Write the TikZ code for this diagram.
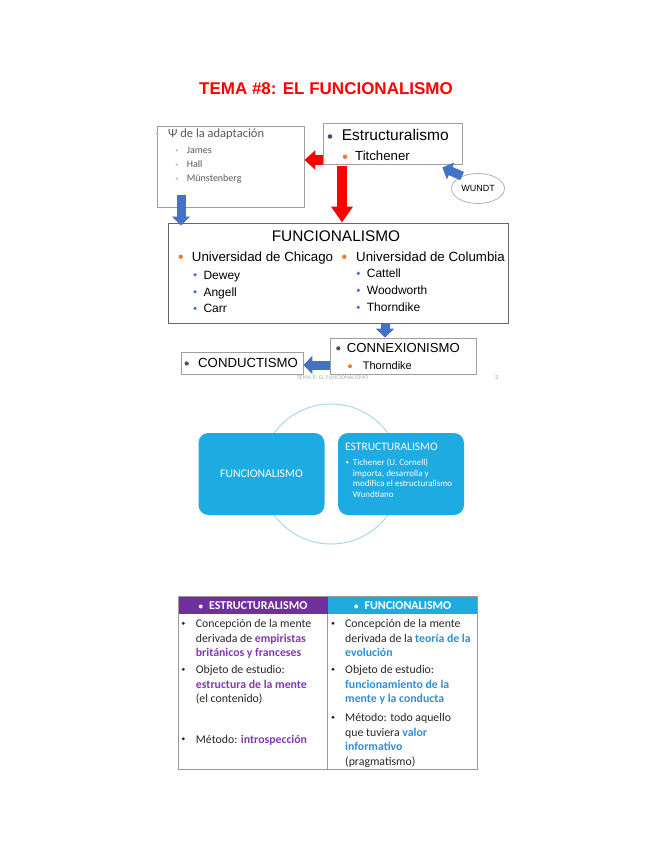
\documentclass[tikz,border=0pt]{standalone}
\usepackage{fontspec}
\setmainfont{Liberation Sans}
\newfontfamily\calibri{Carlito}
\usetikzlibrary{arrows.meta,shapes.geometric}

\definecolor{navy}{HTML}{44546A}
\definecolor{orng}{HTML}{ED7D31}
\definecolor{blu}{HTML}{4472C4}
\definecolor{ltblu}{HTML}{9DC3E6}
\definecolor{psigray}{HTML}{595959}
\definecolor{cybox}{HTML}{1DABE2}
\definecolor{ringblu}{HTML}{A9D8F0}
\definecolor{purp}{HTML}{7030A0}
\definecolor{txtpurp}{HTML}{7E3BB4}
\definecolor{txtblu}{HTML}{2E8FD6}

\newcommand{\emp}[1]{{\bfseries\color{txtpurp}#1}}
\newcommand{\fnc}[1]{{\bfseries\color{txtblu}#1}}

\tikzset{
  slidebox/.style={draw=gray!75, line width=0.8pt, inner sep=0pt},
  redarr/.style={draw=red, line width=10pt, -{Triangle[length=11pt,width=19pt]}},
  redarrd/.style={draw=red, line width=10pt, -{Triangle[length=16pt,width=21pt]}},
  bluarr/.style={draw=blu, line width=9pt, -{Triangle[length=9pt,width=18pt]}},
  txt/.style={anchor=base west, inner sep=0pt},
  roundbox/.style={fill=cybox, rounded corners=10pt, inner sep=0pt,
    minimum width=126pt, minimum height=82pt},
  hdr/.style={inner sep=0pt, minimum width=149.4pt, minimum height=17.3pt,
    text=white, font=\calibri\bfseries\fontsize{12}{14}\selectfont},
  cell/.style={txt, text=black!85, font=\calibri\fontsize{11.8}{14}\selectfont},
}

\begin{document}
\begin{tikzpicture}[x=1pt,y=-1pt]
\path[fill=white] (0,0) rectangle (655,848);
\useasboundingbox (0,0) rectangle (655,848);

% title
\node[txt, anchor=base, text=red, font=\bfseries\fontsize{17}{20}\selectfont] (title) at (326,95) {TEMA \#8: EL FUNCIONALISMO};

% slide boxes
\node[slidebox, minimum width=147pt, minimum height=81pt] (psi) at (230.5,166.5) {};
\node[slidebox, minimum width=139pt, minimum height=41pt] (estr) at (392.5,143.5) {};
\node[slidebox, draw=black!60, line width=1pt, minimum width=340.5pt, minimum height=100pt] (func) at (338.25,273) {};
\node[slidebox, minimum width=146pt, minimum height=36pt] (conn) at (403,356) {};
\node[slidebox, minimum width=122pt, minimum height=21.5pt] (cond) at (242,363.25) {};
\node[slidebox, draw=gray!60, ellipse, minimum width=53pt, minimum height=30pt, font=\fontsize{9}{11}\selectfont] (wundt) at (478,188.5) {WUNDT};

% psi box
\fill[ltblu] (157,133.5) circle (1.5pt);
\node[txt, text=psigray, font=\calibri\fontsize{12.5}{15}\selectfont] (adapt) at (168,138) {Ψ de la adaptación};
\fill[ltblu] (176.7,150.3) circle (1.3pt);
\fill[ltblu] (176.7,164.6) circle (1.3pt);
\fill[ltblu] (176.7,178.6) circle (1.3pt);
\node[txt, text=psigray, font=\calibri\fontsize{10}{12}\selectfont] (james) at (186.7,153.3) {James};
\node[txt, text=psigray, font=\calibri\fontsize{10}{12}\selectfont] (hall) at (186.7,167.6) {Hall};
\node[txt, text=psigray, font=\calibri\fontsize{10}{12}\selectfont] (munst) at (186.7,181.6) {Münstenberg};

% estructuralismo box
\fill[navy] (330,136.5) circle (2.3pt);
\node[txt, font=\fontsize{15.5}{18}\selectfont] (estrt) at (341.7,140.7) {Estructuralismo};
\fill[orng] (345,156.8) circle (2.2pt);
\node[txt, font=\fontsize{13.2}{16}\selectfont] (titch) at (355,160.7) {Titchener};

% funcionalismo box
\node[txt, anchor=base, font=\fontsize{15.4}{18}\selectfont] (functt) at (336,241) {FUNCIONALISMO};
\fill[orng] (180.7,256.8) circle (2.2pt);
\node[txt, font=\fontsize{13.3}{16}\selectfont] (chic) at (191.7,261) {Universidad de Chicago};
\fill[orng] (344.3,256.8) circle (2.2pt);
\node[txt, font=\fontsize{13.3}{16}\selectfont] (colu) at (356,261) {Universidad de Columbia};
\fill[blu] (195,274.8) circle (1.8pt);
\fill[blu] (195,291.8) circle (1.8pt);
\fill[blu] (195,308.3) circle (1.8pt);
\node[txt, font=\fontsize{12}{14}\selectfont] (dewey) at (203.3,279) {Dewey};
\node[txt, font=\fontsize{12}{14}\selectfont] (angell) at (203.3,296) {Angell};
\node[txt, font=\fontsize{12}{14}\selectfont] (carr) at (203.3,312.5) {Carr};
\fill[blu] (358.3,273.3) circle (1.8pt);
\fill[blu] (358.3,290.3) circle (1.8pt);
\fill[blu] (358.3,307.3) circle (1.8pt);
\node[txt, font=\fontsize{12}{14}\selectfont] (catt) at (366.7,277.5) {Cattell};
\node[txt, font=\fontsize{12}{14}\selectfont] (wood) at (366.7,294.5) {Woodworth};
\node[txt, font=\fontsize{12}{14}\selectfont] (thorn) at (366.7,311.5) {Thorndike};

% connexionismo and conductismo
\fill[navy] (338.3,348.3) circle (2.1pt);
\node[txt, font=\fontsize{13.1}{16}\selectfont] (connt) at (346.7,352.7) {CONNEXIONISMO};
\fill[orng] (350,366.2) circle (2pt);
\node[txt, font=\fontsize{11}{13}\selectfont] (thorn2) at (362.7,369.5) {Thorndike};
\fill[navy] (186.7,363.5) circle (2.1pt);
\node[txt, font=\fontsize{13.2}{16}\selectfont] (condt) at (198,367.8) {CONDUCTISMO};

% arrows
\coordinate (redL) at ([yshift=-16.5pt]estr.west);
\draw[redarr] (redL) -- (redL -| psi.east);
\coordinate (redD) at ([xshift=-50.5pt,yshift=-2pt]estr.south);
\draw[redarrd] (redD) -- (redD |- func.north);
\coordinate (bluD) at ([xshift=-49.5pt,yshift=12pt]psi.south);
\draw[bluarr] (bluD) -- ([yshift=-3pt]bluD |- func.north);
\coordinate (bluC) at ([xshift=-18pt]conn.north);
\draw[bluarr] (bluC |- func.south) -- (bluC);
\coordinate (bluL) at ([yshift=-9pt]conn.west);
\draw[bluarr] (bluL) -- (bluL -| cond.east);
\draw[bluarr] (wundt.142) -- ([xshift=-20pt,yshift=-3pt]estr.south east);

% footer
\node[font=\calibri\fontsize{6}{7}\selectfont, text=gray!60] (foot) at (332.5,377.5) {TEMA 8: EL FUNCIONALISMO};
\node[font=\calibri\fontsize{6}{7}\selectfont, text=gray!80] (pnum) at (496.7,377.5) {3};

% second diagram
\draw[ringblu, line width=1pt] (331,474) circle (70pt);
\node[roundbox, text=white, font=\calibri\fontsize{11.7}{14}\selectfont] (fbox) at (261.5,474) {FUNCIONALISMO};
\node[roundbox] (ebox) at (401,474) {};
\node[txt, text=white, font=\calibri\fontsize{11.5}{13}\selectfont] (etitle) at (345,450.7) {ESTRUCTURALISMO};
\fill[white] (347.2,462.3) circle (1.3pt);
\node[txt, text=white, font=\calibri\fontsize{9}{11}\selectfont] (el1) at (352.7,465.6) {Tichener (U. Cornell)};
\node[txt, text=white, font=\calibri\fontsize{9}{11}\selectfont] (el2) at (352.7,476.1) {importa, desarrolla y};
\node[txt, text=white, font=\calibri\fontsize{9}{11}\selectfont] (el3) at (352.7,486.6) {modifica el estructuralismo};
\node[txt, text=white, font=\calibri\fontsize{9}{11}\selectfont] (el4) at (352.7,497.1) {Wundtiano};

% table
\node[hdr, fill=purp] (hl) at (253,605.35) {{\fontsize{9}{10}\selectfont•}\hspace{6pt}ESTRUCTURALISMO};
\node[hdr, fill=cybox, minimum width=150pt] (hr) at (402.7,605.35) {{\fontsize{9}{10}\selectfont•}\hspace{6pt}FUNCIONALISMO};
\draw[gray!80, line width=0.9pt] (hl.north west) rectangle (hr.east |- 0,769.3);
\draw[gray!80, line width=0.9pt] (hl.south east) -- (hl.south east |- 0,769.3);

\fill[black!85] (183.3,623.3) circle (1.6pt);
\fill[black!85] (183.3,669.3) circle (1.6pt);
\fill[black!85] (183.3,738.8) circle (1.6pt);
\node[cell] (l1) at (195.7,627.5) {Concepción de la mente};
\node[cell] (l2) at (195.7,642) {derivada de \emp{empiristas}};
\node[cell] (l3) at (195.7,656.5) {\emp{británicos y franceses}};
\node[cell] (l4) at (195.7,673.5) {Objeto de estudio:};
\node[cell] (l5) at (195.7,688) {\emp{estructura de la mente}};
\node[cell] (l6) at (195.7,702.5) {(el contenido)};
\node[cell] (l7) at (195.7,743) {Método: \emp{introspección}};

\fill[black!85] (333,623.3) circle (1.6pt);
\fill[black!85] (333,669.3) circle (1.6pt);
\fill[black!85] (333,717.3) circle (1.6pt);
\node[cell] (r1) at (345,627.5) {Concepción de la mente};
\node[cell] (r2) at (345,642) {derivada de la \fnc{teoría de la}};
\node[cell] (r3) at (345,656.5) {\fnc{evolución}};
\node[cell] (r4) at (345,673.5) {Objeto de estudio:};
\node[cell] (r5) at (345,688) {\fnc{funcionamiento de la}};
\node[cell] (r6) at (345,702.5) {\fnc{mente y la conducta}};
\node[cell] (r7) at (345,721.5) {Método: todo aquello};
\node[cell] (r8) at (345,736) {que tuviera \fnc{valor}};
\node[cell] (r9) at (345,750.5) {\fnc{informativo}};
\node[cell] (r10) at (345,765) {(pragmatismo)};
\end{tikzpicture}
\end{document}
